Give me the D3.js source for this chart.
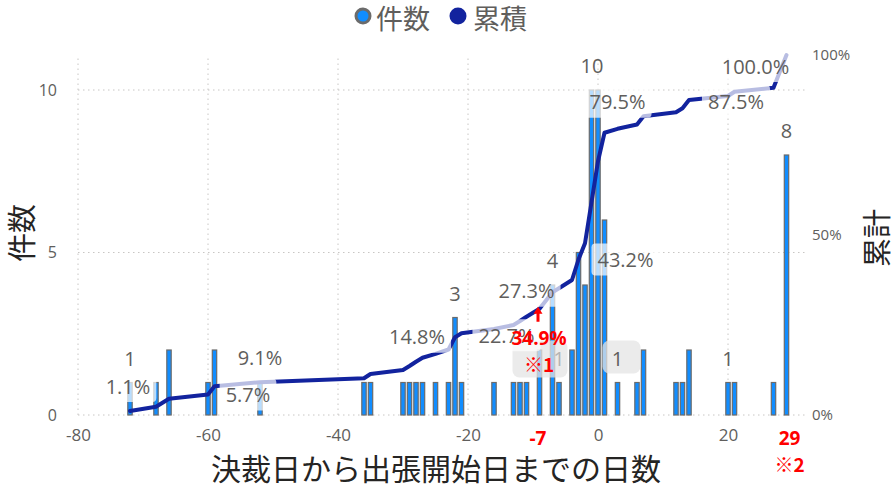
<!DOCTYPE html>
<html><head><meta charset="utf-8">
<script src="https://cdn.jsdelivr.net/npm/d3@7"></script>
<style>body{margin:0;background:#fff}svg{display:block}</style>
</head><body>
<svg id="chart" width="892" height="484"></svg>
<script>
// ---- data ----
const days    = [-72,-68,-66,-60,-59,-52,-36,-35,-30,-29,-28,-27,-25,-23,-22,-21,-16,-13,-12,-11,-9,-7,-6,-4,-3,-2,-1,0,1,3,6,7,12,13,14,20,21,27,29];
const counts  = [1,1,2,1,2,1,1,1,1,1,1,1,1,1,3,1,1,1,1,1,2,4,1,2,5,4,10,10,6,1,1,2,1,1,2,1,1,1,8];
const cumPct  = [1.1,2.3,4.5,5.7,8.0,9.1,10.2,11.4,12.5,13.6,14.8,15.9,17.0,18.2,21.6,22.7,23.9,25.0,26.1,27.3,29.5,34.1,35.2,37.5,43.2,47.7,59.1,70.5,78.4,79.5,80.7,83.0,84.1,85.2,87.5,88.6,89.8,90.9,100.0];
const xTicks  = [-80,-60,-40,-20,0,20];
const yTicks  = [0,5,10];
const y2Ticks = [0,50,100];
const pctLabelDays   = [-72,-60,-52,-28,-21,-11,-3,3,14,29];
const countLabelDays = [-72,-22,-7,-6,-1,3,20,29];
const legendNames = ["件数","累積"];
const xTitle = "決裁日から出張開始日までの日数";
const yTitle = "件数", y2Title = "累計";
const noteDay = -7, notePct = "34.9%", noteMark = "※1";
const lastDay = 29, lastMark = "※2";

// ---- layout ----
const pctLabelOffsets = [[-2,-25],[40,0],[0,-25],[1,-25],[45,2],[0,-26],[47,0],[0,-27],[47,1],[-31,11]];
const FONT = "'Open Sans','Noto Sans CJK JP',sans-serif";
const JFONT = "'Noto Sans CJK JP','Open Sans',sans-serif";
const GRAY = "#605E5C", BLUE = "#118DFF", NAVY = "#12239E";

const svg = d3.select("#chart");
const x = d3.scaleLinear().domain([-80, 32]).range([78, 806]);
const y = d3.scaleLinear().domain([0, 11.077]).range([415, 55]);
const y2 = d3.scaleLinear().domain([0, 100]).range([415, 55]);

const data = days.map((d,i)=>({day:d, n:counts[i], c:cumPct[i]}));
const byDay = new Map(data.map(d=>[d.day,d]));

// grid
const g = svg.append("g");
g.selectAll("line.h").data(yTicks).join("line")
  .attr("x1", x(-80)).attr("x2", x(32)).attr("y1", d=>y(d)).attr("y2", d=>y(d))
  .attr("stroke","#c8c6c4").attr("stroke-width",1).attr("stroke-dasharray","1.5,3.5");
g.selectAll("line.v").data(xTicks).join("line")
  .attr("x1", d=>x(d)).attr("x2", d=>x(d)).attr("y1", y(0)).attr("y2", y2(100))
  .attr("stroke","#c8c6c4").attr("stroke-width",1).attr("stroke-dasharray","1.5,3.5");

// axes
const xAxis = svg.append("g").attr("transform",`translate(0,${y(0)})`)
  .call(d3.axisBottom(x).tickValues(xTicks).tickFormat(d=>String(d)).tickSize(0).tickPadding(14));
const yAxis = svg.append("g").attr("transform",`translate(${x(-80)-19},0)`)
  .call(d3.axisLeft(y).tickValues(yTicks).tickFormat(d=>String(d)).tickSize(0).tickPadding(2));
const y2Axis = svg.append("g").attr("transform",`translate(${x(32)+4},0)`)
  .call(d3.axisRight(y2).tickValues(y2Ticks).tickFormat(d=>d+"%").tickSize(0).tickPadding(2));
[xAxis,yAxis,y2Axis].forEach(a=>{a.select(".domain").remove();
  a.selectAll("text").attr("fill",GRAY).attr("font-family",FONT);});
xAxis.selectAll("text").attr("font-size",17);
yAxis.selectAll("text").attr("font-size",16);
y2Axis.selectAll("text").attr("font-size",15);

// bars
svg.append("g").selectAll("rect").data(data).join("rect")
  .attr("x", d=>x(d.day)-2.2).attr("width",4.4)
  .attr("y", d=>y(d.n)).attr("height", d=>y(0)-y(d.n))
  .attr("fill",BLUE).attr("stroke","#6b6b6b").attr("stroke-width",1.2);

// cumulative line
svg.append("path").datum(data)
  .attr("d", d3.line().x(d=>x(d.day)).y(d=>y2(d.c)))
  .attr("fill","none").attr("stroke",NAVY).attr("stroke-width",4)
  .attr("stroke-linejoin","round").attr("stroke-linecap","round");

// gray annotation boxes
const boxG = svg.append("g");
boxG.append("rect").attr("x", x(noteDay)-40).attr("y", y(1)-42).attr("width",55).attr("height",37)
  .attr("rx",7).attr("fill","#e4e4e4").attr("opacity",0.75);
boxG.append("rect").attr("x", x(3)-15).attr("y", y(1)-42).attr("width",38).attr("height",33)
  .attr("rx",7).attr("fill","#e4e4e4").attr("opacity",0.75);

// percent labels with translucent backgrounds
const lab = svg.append("g");
pctLabelDays.forEach((dd,i)=>{
  const d = byDay.get(dd);
  const cx = x(d.day)+pctLabelOffsets[i][0], cy = y2(d.c)+pctLabelOffsets[i][1];
  const t = lab.append("text").attr("x",cx).attr("y",cy).attr("text-anchor","middle")
    .attr("dominant-baseline","central").attr("font-family",FONT).attr("font-size",20)
    .attr("fill",GRAY).text(d.c.toFixed(1)+"%");
  const w = t.node().getComputedTextLength();
  lab.insert("rect","text").attr("x",cx-w/2-6).attr("y",cy-16).attr("width",w+12).attr("height",32)
    .attr("rx",4).attr("fill","#ffffff").attr("opacity",0.7);
});
// count labels
countLabelDays.forEach(dd=>{
  const d = byDay.get(dd);
  svg.append("text").attr("x",x(d.day)+(d.n>=10?0.5:0)).attr("y",y(d.n)-24.5)
    .attr("text-anchor","middle").attr("dominant-baseline","central")
    .attr("font-family",FONT).attr("font-size",20)
    .attr("fill", dd===-6 ? "#b4b4b4" : GRAY).text(d.n);
});

// red annotation
const red = "#FF0000";
const nx = x(noteDay)-14.5;
svg.append("path").attr("d",`M${nx},${y2(byDay.get(-9).c)-2} l-4.5,7 h3 v8 h3 v-8 h3 z`)
  .attr("fill",red);
svg.append("text").attr("x",nx+1).attr("y",y(1)-45).attr("text-anchor","middle")
  .attr("dominant-baseline","central").attr("font-family",FONT).attr("font-weight","bold")
  .attr("font-size",19).attr("fill",red).text(notePct);
svg.append("text").attr("x",nx+1).attr("y",y(1)-19).attr("text-anchor","middle")
  .attr("dominant-baseline","central").attr("font-family",JFONT).attr("font-weight","bold")
  .attr("font-size",19).attr("fill",red).text(noteMark);
svg.append("text").attr("x",nx).attr("y",y(0)+23).attr("text-anchor","middle")
  .attr("dominant-baseline","central").attr("font-family",FONT).attr("font-weight","bold")
  .attr("font-size",19).attr("fill",red).text(String(noteDay));
svg.append("text").attr("x",x(lastDay)+3).attr("y",y(0)+23).attr("text-anchor","middle")
  .attr("dominant-baseline","central").attr("font-family",FONT).attr("font-weight","bold")
  .attr("font-size",19).attr("fill",red).text(lastDay);
svg.append("text").attr("x",x(lastDay)+3).attr("y",y(0)+48).attr("text-anchor","middle")
  .attr("dominant-baseline","central").attr("font-family",JFONT).attr("font-weight","bold")
  .attr("font-size",19).attr("fill",red).text(lastMark);

// titles
svg.append("text").attr("x",436).attr("y",467).attr("text-anchor","middle")
  .attr("dominant-baseline","central").attr("font-family",JFONT).attr("font-size",30)
  .attr("fill","#252423").text(xTitle);
svg.append("text").attr("transform","translate(20,233) rotate(-90)").attr("text-anchor","middle")
  .attr("dominant-baseline","central").attr("font-family",JFONT).attr("font-size",29)
  .attr("fill","#252423").text(yTitle);
svg.append("text").attr("transform","translate(875,238) rotate(-90)").attr("text-anchor","middle")
  .attr("dominant-baseline","central").attr("font-family",JFONT).attr("font-size",29)
  .attr("fill","#252423").text(y2Title);

// legend
const lg = svg.append("g");
lg.append("circle").attr("cx",363).attr("cy",16).attr("r",7).attr("fill",BLUE).attr("stroke","#6b6b6b").attr("stroke-width",3);
lg.append("text").attr("x",376).attr("y",17).attr("dominant-baseline","central")
  .attr("font-family",JFONT).attr("font-size",27).attr("fill",GRAY).text(legendNames[0]);
lg.append("circle").attr("cx",458).attr("cy",16).attr("r",8.5).attr("fill",NAVY);
lg.append("text").attr("x",473).attr("y",17).attr("dominant-baseline","central")
  .attr("font-family",JFONT).attr("font-size",27).attr("fill",GRAY).text(legendNames[1]);
</script>
</body></html>
